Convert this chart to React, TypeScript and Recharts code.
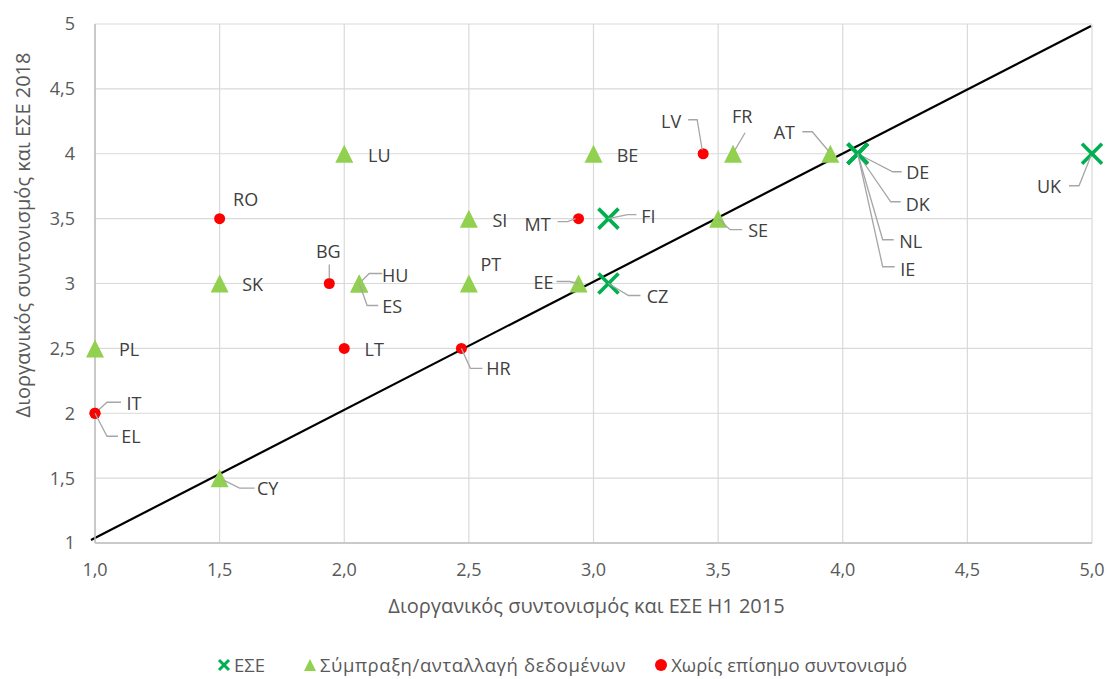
import React from 'react';
import { ScatterChart, Scatter, XAxis, YAxis, CartesianGrid, ReferenceLine, Legend } from 'recharts';

// ---- Data ----
const eseCodes = ['FI', 'CZ', 'DE', 'DK', 'NL', 'IE', 'UK'];
const eseX = [3.06, 3.06, 4.06, 4.06, 4.06, 4.06, 5.0];
const eseY = [3.5, 3.0, 4.0, 4.0, 4.0, 4.0, 4.0];

const poolCodes = ['LU', 'BE', 'FR', 'AT', 'SI', 'SE', 'SK', 'HU', 'ES', 'PT', 'EE', 'PL', 'CY'];
const poolX = [2.0, 3.0, 3.56, 3.95, 2.5, 3.5, 1.5, 2.06, 2.06, 2.5, 2.94, 1.0, 1.5];
const poolY = [4.0, 4.0, 4.0, 4.0, 3.5, 3.5, 3.0, 3.0, 3.0, 3.0, 3.0, 2.5, 1.5];

const noneCodes = ['RO', 'BG', 'LT', 'HR', 'MT', 'LV', 'IT', 'EL'];
const noneX = [1.5, 1.94, 2.0, 2.47, 2.94, 3.44, 1.0, 1.0];
const noneY = [3.5, 3.0, 2.5, 2.5, 3.5, 4.0, 2.0, 2.0];

const fitLine = [
  { x: 0.984, y: 1.023 },
  { x: 4.996, y: 4.985 },
];

const xTicks = [1, 1.5, 2, 2.5, 3, 3.5, 4, 4.5, 5];
const yTicks = [1, 1.5, 2, 2.5, 3, 3.5, 4, 4.5, 5];

const seriesNames = ['ΕΣΕ', 'Σύμπραξη/ανταλλαγή δεδομένων', 'Χωρίς επίσημο συντονισμό'];
const xTitle = 'Διοργανικός συντονισμός και ΕΣΕ Η1 2015';
const yTitle = 'Διοργανικός συντονισμός και ΕΣΕ 2018';

// ---- Layout / style (label placement relative to marker, px) ----
type Lay = { dx: number; dy: number; leader?: number[][] };
const labelLayout: Record<string, Lay> = {
  LU: { dx: 35, dy: 1 },
  BE: { dx: 34, dy: 1 },
  LV: { dx: -32, dy: -33, leader: [[-15, -34], [-6, -34], [-1, -4]] },
  FR: { dx: 9, dy: -38, leader: [[12, -21], [2, -4]] },
  AT: { dx: -46, dy: -22, leader: [[-28, -22], [-18, -22], [-2, -3]] },
  DE: { dx: 60, dy: 18, leader: [[44, 18], [35, 18], [0, 0]] },
  DK: { dx: 60, dy: 50, leader: [[43, 48], [33, 48], [0, 0]] },
  NL: { dx: 53, dy: 87, leader: [[36, 86], [25, 86], [0, 0]] },
  IE: { dx: 50, dy: 115, leader: [[37, 113], [25, 113], [0, 0]] },
  UK: { dx: -43, dy: 32, leader: [[-23, 32], [-13, 32], [-1, 2]] },
  SI: { dx: 31, dy: 1 },
  MT: { dx: -41, dy: 5, leader: [[-21, 3], [-11, 3], [-3, 0]] },
  FI: { dx: 40, dy: -3, leader: [[28, -4], [19, -4], [0, 0]] },
  SE: { dx: 40, dy: 11, leader: [[24, 11], [12, 11], [0, 0]] },
  RO: { dx: 26, dy: -20 },
  SK: { dx: 33, dy: 0 },
  BG: { dx: -1, dy: -33, leader: [[0, -19], [0, -5]] },
  HU: { dx: 36, dy: -9, leader: [[23, -10], [10, -10], [0, 0]] },
  ES: { dx: 33, dy: 22, leader: [[19, 22], [8, 22], [0, 0]] },
  PT: { dx: 22, dy: -20 },
  EE: { dx: -35, dy: -2, leader: [[-22, -2], [-9, -2], [0, 0]] },
  CZ: { dx: 49, dy: 12, leader: [[32, 12], [20, 12], [0, 0]] },
  PL: { dx: 34, dy: 1 },
  LT: { dx: 30, dy: 1 },
  HR: { dx: 37, dy: 20, leader: [[21, 20], [9, 20], [0, 0]] },
  IT: { dx: 39, dy: -10, leader: [[26, -11], [12, -11], [0, 0]] },
  EL: { dx: 36, dy: 23, leader: [[23, 23], [12, 23], [0, 0]] },
  CY: { dx: 48, dy: 10, leader: [[35, 10], [20, 10], [4, 2]] },
};

const FONT = '"Open Sans", "Noto Sans", sans-serif';
const TEXT = '#404040';
const AXIS_TEXT = '#595959';
const GREEN_X = '#00B050';
const GREEN_T = '#92D050';
const RED = '#FF0000';

const build = (codes: string[], xs: number[], ys: number[]) =>
  codes.map((code, i) => ({ code, x: xs[i], y: ys[i] }));

const eseData = build(eseCodes, eseX, eseY);
const poolData = build(poolCodes, poolX, poolY);
const noneData = build(noneCodes, noneX, noneY);

const LabelFor = ({ cx, cy, code }: { cx: number; cy: number; code: string }) => {
  const l = labelLayout[code];
  if (!l) return null;
  return (
    <g>
      {l.leader && (
        <polyline
          points={l.leader.map((p) => `${cx + p[0]},${cy + p[1]}`).join(' ')}
          fill="none"
          stroke="#A6A6A6"
          strokeWidth={1.3}
        />
      )}
      <text
        x={cx + l.dx}
        y={cy + l.dy}
        textAnchor="middle"
        dominantBaseline="central"
        fontFamily={FONT}
        fontSize={18}
        fill={TEXT}
      >
        {code}
      </text>
    </g>
  );
};

const XMark = ({ cx, cy, size = 10, sw = 3.6 }: any) => (
  <g>
    <line x1={cx - size} y1={cy - size} x2={cx + size} y2={cy + size} stroke={GREEN_X} strokeWidth={sw} />
    <line x1={cx - size} y1={cy + size} x2={cx + size} y2={cy - size} stroke={GREEN_X} strokeWidth={sw} />
  </g>
);
const TriMark = ({ cx, cy, s = 9 }: any) => (
  <polygon points={`${cx},${cy - s} ${cx - s},${cy + s} ${cx + s},${cy + s}`} fill={GREEN_T} />
);
const DotMark = ({ cx, cy, r = 5.5 }: any) => <circle cx={cx} cy={cy} r={r} fill={RED} />;

const eseShape = (p: any) => (
  <g>
    <XMark cx={p.cx} cy={p.cy} />
    <LabelFor cx={p.cx} cy={p.cy} code={p.payload.code} />
  </g>
);
const poolShape = (p: any) => (
  <g>
    <TriMark cx={p.cx} cy={p.cy} />
    <LabelFor cx={p.cx} cy={p.cy} code={p.payload.code} />
  </g>
);
const noneShape = (p: any) => (
  <g>
    <DotMark cx={p.cx} cy={p.cy} />
    <LabelFor cx={p.cx} cy={p.cy} code={p.payload.code} />
  </g>
);

const LegendContent = () => (
  <div
    style={{
      display: 'flex',
      justifyContent: 'center',
      alignItems: 'center',
      fontFamily: FONT,
      fontSize: 18.5,
      color: AXIS_TEXT,
      marginLeft: 12,
      whiteSpace: 'nowrap',
    }}
  >
    <span style={{ display: 'inline-flex', alignItems: 'center', marginRight: 38 }}>
      <svg width={14} height={14} style={{ marginRight: 3 }}>
        <XMark cx={7} cy={7} size={5} sw={3} />
      </svg>
      {seriesNames[0]}
    </span>
    <span style={{ display: 'inline-flex', alignItems: 'center', marginRight: 28, letterSpacing: 0.6 }}>
      <svg width={14} height={14} style={{ marginRight: 3 }}>
        <TriMark cx={7} cy={7} s={6} />
      </svg>
      {seriesNames[1]}
    </span>
    <span style={{ display: 'inline-flex', alignItems: 'center' }}>
      <svg width={14} height={14} style={{ marginRight: 3 }}>
        <DotMark cx={7} cy={7} r={6} />
      </svg>
      {seriesNames[2]}
    </span>
  </div>
);

const fmtX = (v: number) => v.toFixed(1).replace('.', ',');
const fmtY = (v: number) => String(v).replace('.', ',');

const XTitle = (props: any) => {
  const vb = props.viewBox;
  return (
    <text
      x={vb.x + vb.width / 2 - 7}
      y={vb.y + 62}
      textAnchor="middle"
      dominantBaseline="central"
      fontFamily={FONT}
      fontSize={20}
      fill={AXIS_TEXT}
    >
      {xTitle}
    </text>
  );
};
const YTitle = () => {
  const cx = 14;
  const cy = 227;
  return (
    <text
      x={cx}
      y={cy}
      transform={`rotate(-90, ${cx}, ${cy})`}
      textAnchor="middle"
      dominantBaseline="central"
      fontFamily={FONT}
      fontSize={20}
      fill={AXIS_TEXT}
    >
      {yTitle}
    </text>
  );
};

export default function App() {
  return (
    <div style={{ padding: 8, width: 1099, height: 671 }}>
      <style>{'html,body{margin:0;overflow:hidden}'}</style>
      <ScatterChart
        width={1099}
        height={671}
        margin={{ top: 16, right: 15, bottom: 3, left: 12 }}
        style={{ fontFamily: FONT, overflow: 'visible' }}
      >
        <CartesianGrid stroke="#D9D9D9" strokeWidth={1.2} />
        <XAxis
          type="number"
          dataKey="x"
          domain={[1, 5]}
          ticks={xTicks}
          tickFormatter={fmtX}
          tickLine={false}
          tickSize={0}
          tickMargin={20}
          height={109}
          stroke="#BFBFBF"
          strokeWidth={1.5}
          tick={{ fill: AXIS_TEXT, fontSize: 18, fontFamily: FONT }}
          label={<XTitle />}
        />
        <YAxis
          type="number"
          dataKey="y"
          domain={[1, 5]}
          ticks={yTicks}
          tickFormatter={fmtY}
          tickLine={false}
          tickSize={0}
          tickMargin={20}
          width={75}
          stroke="#BFBFBF"
          strokeWidth={1.5}
          tick={{ fill: AXIS_TEXT, fontSize: 18, fontFamily: FONT }}
          label={<YTitle />}
        />
        <Legend verticalAlign="bottom" height={24} content={<LegendContent />} />
        <Scatter name={seriesNames[1]} data={poolData} shape={poolShape} isAnimationActive={false} />
        <Scatter name={seriesNames[2]} data={noneData} shape={noneShape} isAnimationActive={false} />
        <Scatter name={seriesNames[0]} data={eseData} shape={eseShape} isAnimationActive={false} />
        <ReferenceLine segment={fitLine} stroke="#000000" strokeWidth={2.2} ifOverflow="visible" />
      </ScatterChart>
    </div>
  );
}
